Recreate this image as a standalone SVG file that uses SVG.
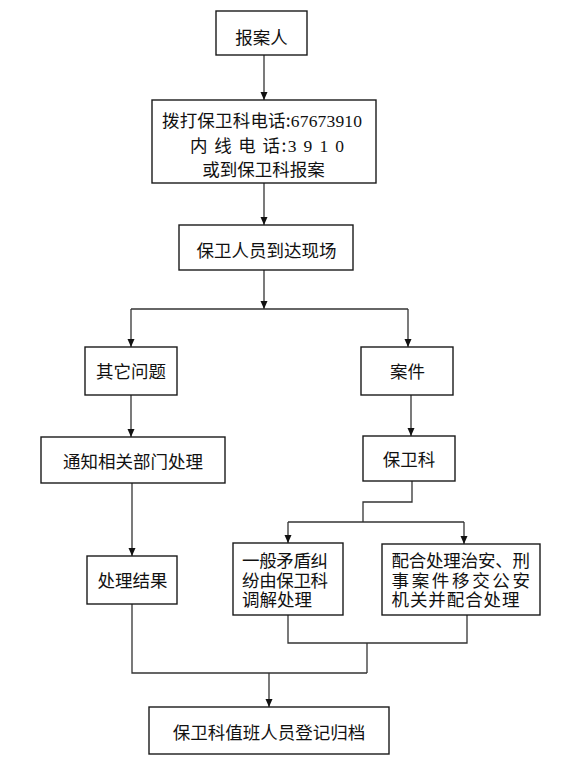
<svg xmlns="http://www.w3.org/2000/svg" width="568" height="764" viewBox="0 0 568 764">
<style>
.box{fill:#fff;stroke:#1a1a1a;stroke-width:1.4}
.t{font-family:"Noto Sans CJK SC","Noto Sans",sans-serif;font-size:17.5px;fill:#111;text-anchor:middle}
.l{text-anchor:start}
.d{font-family:"Liberation Serif",serif}
.c{fill:none;stroke:#333;stroke-width:1.3}
</style>
<defs>
<marker id="ah" markerUnits="userSpaceOnUse" markerWidth="8" markerHeight="8" refX="8" refY="3.5" orient="auto">
<path d="M0,0 L8,3.5 L0,7 z" fill="#111"/>
</marker>
</defs>
<rect width="568" height="764" fill="#fff"/>
<g id="connectors">
<line class="c" x1="264" y1="55" x2="264" y2="100" marker-end="url(#ah)"/>
<line class="c" x1="264" y1="183" x2="264" y2="225" marker-end="url(#ah)"/>
<line class="c" x1="264" y1="270" x2="264" y2="309" marker-end="url(#ah)"/>
<line class="c" x1="131" y1="309" x2="408" y2="309"/>
<line class="c" x1="131" y1="309" x2="131" y2="347" marker-end="url(#ah)"/>
<line class="c" x1="408" y1="309" x2="408" y2="347" marker-end="url(#ah)"/>
<line class="c" x1="131" y1="395" x2="131" y2="437" marker-end="url(#ah)"/>
<line class="c" x1="411" y1="395" x2="411" y2="436" marker-end="url(#ah)"/>
<line class="c" x1="132" y1="483" x2="132" y2="556" marker-end="url(#ah)"/>
<polyline class="c" points="412,481 412,502 363,502 363,522"/>
<line class="c" x1="288" y1="522" x2="464" y2="522"/>
<line class="c" x1="288" y1="522" x2="288" y2="543" marker-end="url(#ah)"/>
<line class="c" x1="464" y1="522" x2="464" y2="544" marker-end="url(#ah)"/>
<polyline class="c" points="288,615 288,643 467,643 467,615"/>
<line class="c" x1="367" y1="643" x2="367" y2="673"/>
<polyline class="c" points="132,604 132,673 367,673"/>
<line class="c" x1="269" y1="673" x2="269" y2="707" marker-end="url(#ah)"/>
</g>
<g id="n1"><rect class="box" x="216" y="11" width="91" height="44"/><text class="t" x="261.5" y="44">报案人</text></g>
<g id="n2"><rect class="box" x="152" y="100" width="224" height="83"/>
<text class="t l" x="162" y="127" textLength="200" lengthAdjust="spacing">拨打保卫科电话:<tspan class="d">67673910</tspan></text>
<text class="t l" x="190" y="152" textLength="154" lengthAdjust="spacing">内 线 电 话:<tspan class="d">3 9 1 0</tspan></text>
<text class="t" x="263.5" y="176">或到保卫科报案</text></g>
<g id="n3"><rect class="box" x="179" y="225" width="174" height="45"/><text class="t" x="266.5" y="257">保卫人员到达现场</text></g>
<g id="n4"><rect class="box" x="85" y="347" width="92" height="48"/><text class="t" x="131" y="378">其它问题</text></g>
<g id="n5"><rect class="box" x="361" y="347" width="92" height="48"/><text class="t" x="407.5" y="378">案件</text></g>
<g id="n6"><rect class="box" x="41" y="437" width="184" height="46"/><text class="t" x="133" y="468">通知相关部门处理</text></g>
<g id="n7"><rect class="box" x="363" y="436" width="92" height="45"/><text class="t" x="409" y="466">保卫科</text></g>
<g id="n8"><rect class="box" x="87" y="556" width="90" height="48"/><text class="t" x="132.5" y="587">处理结果</text></g>
<g id="n9"><rect class="box" x="233" y="543" width="110" height="72"/>
<text class="t l" x="242" y="567" textLength="86" lengthAdjust="spacing">一般矛盾纠</text>
<text class="t l" x="242" y="587" textLength="86" lengthAdjust="spacing">纷由保卫科</text>
<text class="t l" x="242" y="606">调解处理</text></g>
<g id="n10"><rect class="box" x="382" y="544" width="158" height="71"/>
<text class="t l" x="391.5" y="567" textLength="138.5" lengthAdjust="spacing">配合处理治安、刑</text>
<text class="t l" x="391.5" y="587" textLength="138.5" lengthAdjust="spacing">事案件移交公安</text>
<text class="t l" x="391.5" y="606" textLength="128" lengthAdjust="spacing">机关并配合处理</text></g>
<g id="n11"><rect class="box" x="149" y="707" width="240" height="47"/><text class="t" x="269" y="739">保卫科值班人员登记归档</text></g>
</svg>
